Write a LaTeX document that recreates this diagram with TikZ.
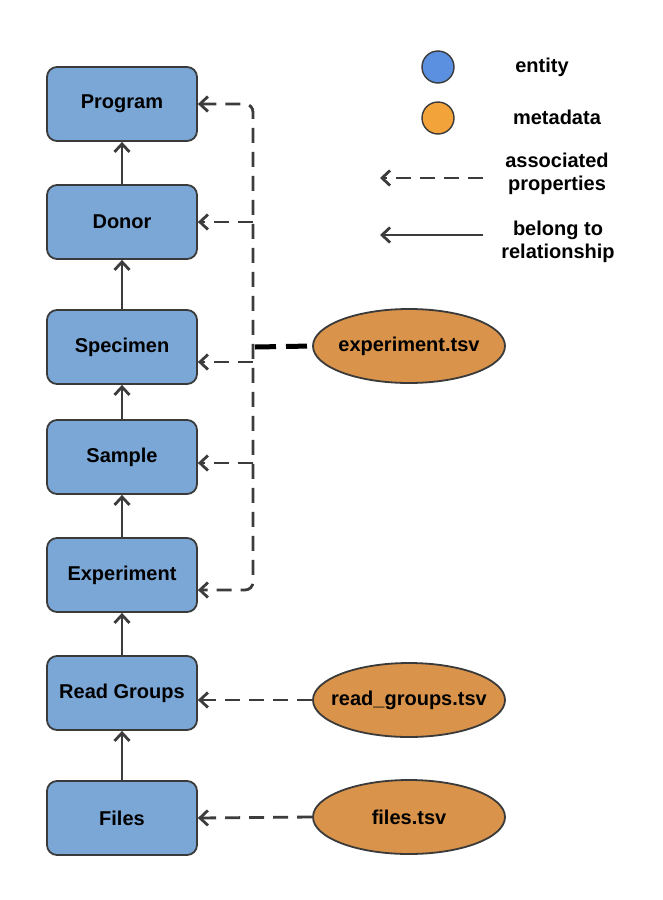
\documentclass[tikz,border=0pt]{standalone}
\usepackage{fontspec}
\setmainfont{Liberation Sans}
\usetikzlibrary{shapes.geometric,arrows.meta}
\definecolor{entblue}{HTML}{7BA7D7}
\definecolor{metaor}{HTML}{D9934A}
\definecolor{legblue}{HTML}{5B8FE0}
\definecolor{legor}{HTML}{F2A33A}
\definecolor{edge}{HTML}{3A3A3A}
\definecolor{lineg}{HTML}{3C3C3C}
\begin{document}
\begin{tikzpicture}[x=1pt,y=-1pt,
  txt/.style={font=\fontsize{20}{23}\selectfont\bfseries, text=black},
  entbox/.style={txt, draw=edge, line width=1.8pt, fill=entblue, rounded corners=10pt,
    minimum width=150pt, minimum height=74pt, inner sep=0pt},
  metaell/.style={txt, ellipse, draw=edge, line width=1.8pt, fill=metaor,
    minimum width=192pt, minimum height=74pt, inner sep=0pt},
  belong/.style={draw=lineg, line width=2.8pt, -{Straight Barb[length=8pt,width=15pt]}},
  assoc/.style={draw=lineg, line width=2.8pt, dash pattern=on 15pt off 9pt, -{Straight Barb[length=8pt,width=15pt]}},
  legtxt/.style={txt, align=center, inner sep=0pt}
]
\useasboundingbox (0,0) rectangle (662,900);

% entities
\node[entbox] (prog) at (122,104) {Program};
\node[entbox] (donor) at (122,222) {Donor};
\node[entbox] (spec) at (122,347) {Specimen};
\node[entbox] (samp) at (122,457) {Sample};
\node[entbox] (expt) at (122,575) {Experiment};
\node[entbox] (rg) at (122,693) {Read Groups};
\node[entbox] (files) at (122,818) {Files};

% metadata
\node[metaell] (exptsv) at (409,346) {\makebox[0pt]{experiment.tsv}};
\node[metaell] (rgtsv) at (409,700) {\makebox[0pt]{read\_groups.tsv}};
\node[metaell] (filestsv) at (409,817) {\makebox[0pt]{files.tsv}};

% belong-to arrows
\draw[belong] (donor) -- (prog);
\draw[belong] (spec) -- (donor);
\draw[belong] (samp) -- (spec);
\draw[belong] (expt) -- (samp);
\draw[belong] (rg) -- (expt);
\draw[belong] (files) -- (rg);

% associated properties
\coordinate (jn) at (255,347);
\coordinate (bd) at (253,222);
\coordinate (bs) at (253,362);
\coordinate (bm) at (253,463);
\draw[assoc, {Straight Barb[length=8pt,width=15pt]}-{Straight Barb[length=8pt,width=15pt]}, rounded corners=8pt]
  (prog.east) -| (253,590) -- ([yshift=-15pt]expt.east);
\draw[assoc] (bd) -- (donor.east);
\draw[assoc] (bs) -- ([yshift=-15pt]spec.east);
\draw[assoc] (bm) -- ([yshift=-6pt]samp.east);
\draw[draw=black, line width=5pt, dash pattern=on 21pt off 10pt] (jn) -- (exptsv.west);
\draw[assoc] (rgtsv.west) -- ([yshift=-7pt]rg.east);
\draw[assoc] (filestsv.west) -- (files.east);

% legend
\node[circle, draw=edge, line width=1.4pt, fill=legblue, minimum size=32pt, inner sep=0pt] (lgb) at (438,67) {};
\node[circle, draw=edge, line width=1.4pt, fill=legor, minimum size=32pt, inner sep=0pt] (lgo) at (438,118) {};
\node[legtxt] (tent) at (542,67) {entity};
\node[legtxt] (tmeta) at (557,117) {metadata};
\node[legtxt] (tassoc) at (557,174) {associated\\properties};
\node[legtxt] (tbel) at (558,242) {belong to\\relationship};
\coordinate (la1) at (483,178);
\coordinate (la2) at (380,178);
\coordinate (lb1) at (483,235);
\coordinate (lb2) at (380,235);
\draw[assoc] (la1) -- (la2);
\draw[belong] (lb1) -- (lb2);
\end{tikzpicture}
\end{document}
